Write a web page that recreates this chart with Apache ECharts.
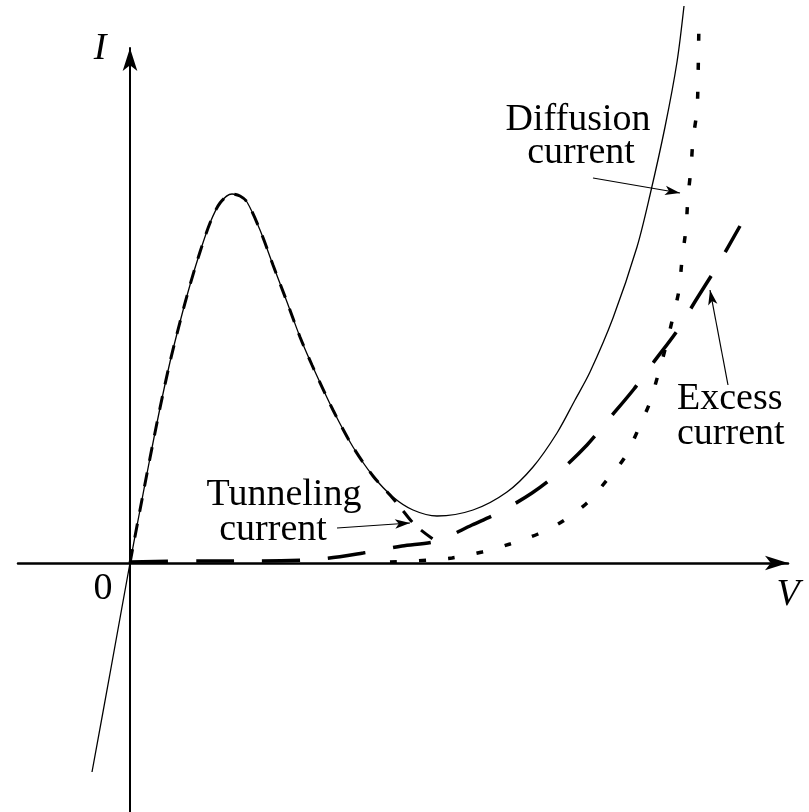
<!DOCTYPE html>
<html>
<head>
<meta charset="utf-8">
<script src="https://cdn.jsdelivr.net/npm/echarts@6/dist/echarts.min.js"></script>
<style>
html,body{margin:0;padding:0;background:#fff;}
#chart{width:809px;height:812px;}
</style>
</head>
<body>
<div id="chart"></div>
<script>
// Total current (solid)
const totalV = [-0.38,-0.19,0,0.10,0.20,0.30,0.40,0.50,0.60,0.70,0.80,0.90,1.02,1.10,1.17,1.30,1.43,1.57,1.70,1.82,2.03,2.23,2.43,2.63,2.83,3.07,3.43,3.77,4.03,4.27,4.45,4.60,4.83,5.07,5.20,5.35,5.47,5.54];
const totalI = [-2.09,-1.05,0,0.53,1.05,1.55,2.01,2.41,2.78,3.11,3.40,3.60,3.69,3.67,3.61,3.33,2.98,2.61,2.26,1.98,1.53,1.16,0.87,0.66,0.53,0.47,0.53,0.71,0.96,1.30,1.63,1.91,2.45,3.16,3.68,4.36,5.01,5.57];
// Tunneling current (dashed)
const tunnelV = [0,0.10,0.20,0.30,0.40,0.50,0.60,0.70,0.80,0.90,1.02,1.10,1.17,1.30,1.43,1.57,1.70,1.82,2.03,2.23,2.43,2.60,2.70,2.85,3.07];
const tunnelI = [0,0.53,1.05,1.55,2.01,2.41,2.78,3.11,3.40,3.60,3.69,3.67,3.61,3.33,2.98,2.61,2.26,1.98,1.53,1.16,0.87,0.68,0.56,0.38,0.21];
// Excess current (long dashes)
const excessV = [0,0.70,1.30,1.90,2.33,2.72,3.07,3.42,3.70,4.02,4.28,4.57,4.78,5.04,5.23,5.47,5.66,5.86,6.10];
const excessI = [0.01,0.02,0.02,0.04,0.10,0.17,0.22,0.38,0.51,0.70,0.90,1.18,1.43,1.74,2.00,2.32,2.63,2.95,3.37];
// Diffusion current (dotted)
const diffV = [2.60,3.00,3.22,3.52,3.80,4.08,4.33,4.57,4.77,4.95,5.08,5.20,5.28,5.36,5.43,5.49,5.52,5.56,5.58,5.61,5.63,5.67,5.68,5.69];
const diffI = [0.01,0.03,0.05,0.11,0.19,0.29,0.42,0.60,0.83,1.06,1.33,1.61,1.88,2.17,2.46,2.73,3.03,3.35,3.66,3.95,4.23,4.53,4.83,5.45];

const pairs = (xs, ys) => xs.map((x, i) => [x, ys[i]]);
const SERIF = '"Liberation Serif", "DejaVu Serif", serif';

const chart = echarts.init(document.getElementById('chart'), null, {renderer: 'canvas'});

function lineSeries(name, xs, ys, style) {
  return {
    name, type: 'line', data: pairs(xs, ys), showSymbol: false, symbol: 'none',
    smooth: 0.3, clip: false, silent: true, animation: false,
    lineStyle: Object.assign({color: '#000'}, style)
  };
}

function arrow(from, to) {
  return [{coord: from}, {coord: to}];
}

function text(t, x, y, italic, align) {
  return {type: 'text', style: {text: t, x, y, font: (italic ? 'italic ' : '') + '38px ' + SERIF,
    textAlign: align || 'center', textVerticalAlign: 'middle', fill: '#000'}};
}

const option = {
  animation: false,
  backgroundColor: '#fff',
  grid: {left: 18, right: 21, top: 48, bottom: 0},
  xAxis: {
    type: 'value', min: -1.12, max: 6.58,
    axisLine: {onZero: true, symbol: ['none', 'arrow'], symbolSize: [11, 23],
      lineStyle: {color: '#000', width: 2.5}},
    axisTick: {show: false}, axisLabel: {show: false}, splitLine: {show: false}
  },
  yAxis: {
    type: 'value', min: -2.49, max: 5.15,
    axisLine: {onZero: true, symbol: ['none', 'arrow'], symbolSize: [11, 23],
      lineStyle: {color: '#000', width: 2}},
    axisTick: {show: false}, axisLabel: {show: false}, splitLine: {show: false}
  },
  series: [
    lineSeries('Total', totalV, totalI, {width: 1.3, type: 'solid'}),
    Object.assign(lineSeries('Tunneling current', tunnelV, tunnelI, {width: 3, type: [14, 12]}), {
      markLine: {
        silent: true, symbol: ['none', 'arrow'], symbolSize: [7, 15], animation: false,
        label: {show: false},
        lineStyle: {color: '#000', width: 1.2, type: 'solid'},
        data: [
          arrow([4.63, 3.85], [5.50, 3.70]),
          arrow([2.07, 0.35], [2.80, 0.40]),
          arrow([5.98, 1.78], [5.80, 2.73])
        ]
      }
    }),
    lineSeries('Excess current', excessV, excessI, {width: 3.5, type: [38, 28]}),
    lineSeries('Diffusion current', diffV, diffI, {width: 3.5, type: [7, 22]})
  ],
  graphic: [
    text('I', 100, 49, true),
    text('0', 103, 589, false),
    text('V', 788, 595, true),
    text('Diffusion', 578, 120, false),
    text('current', 581, 153, false),
    text('Tunneling', 284, 495, false),
    text('current', 273, 530, false),
    text('Excess', 677, 399, false, 'left'),
    text('current', 677, 434, false, 'left')
  ]
};
chart.setOption(option);
</script>
</body>
</html>
